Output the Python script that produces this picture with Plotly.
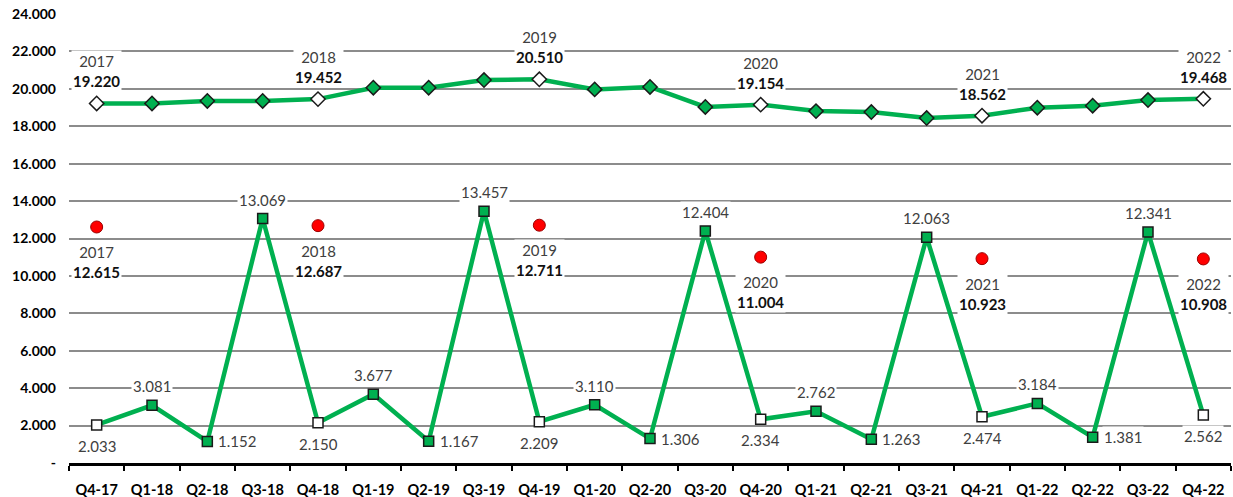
import plotly.graph_objects as go

quarters = ["Q4-17", "Q1-18", "Q2-18", "Q3-18", "Q4-18", "Q1-19", "Q2-19", "Q3-19", "Q4-19",
            "Q1-20", "Q2-20", "Q3-20", "Q4-20", "Q1-21", "Q2-21", "Q3-21", "Q4-21",
            "Q1-22", "Q2-22", "Q3-22", "Q4-22"]

# rolling 12-month total (upper line)
rolling_total = [19220, 19220, 19350, 19350, 19452, 20060, 20060, 20470, 20510,
                 19970, 20100, 19030, 19154, 18810, 18760, 18440, 18562,
                 18990, 19100, 19400, 19468]

# quarterly value (lower line)
quarterly = [2033, 3081, 1152, 13069, 2150, 3677, 1167, 13457, 2209,
             3110, 1306, 12404, 2334, 2762, 1263, 12063, 2474,
             3184, 1381, 12341, 2562]

# yearly average (red dots), sitting on the Q4 categories
year_quarters = ["Q4-17", "Q4-18", "Q4-19", "Q4-20", "Q4-21", "Q4-22"]
years = ["2017", "2018", "2019", "2020", "2021", "2022"]
yearly_avg = [12615, 12687, 12711, 11004, 10923, 10908]

y_tickvals = [0, 2000, 4000, 6000, 8000, 10000, 12000, 14000, 16000, 18000, 20000, 22000, 24000]
y_ticktext = ["-", "2.000", "4.000", "6.000", "8.000", "10.000", "12.000", "14.000",
              "16.000", "18.000", "20.000", "22.000", "24.000"]

GREEN = "#00B050"
FONT = "Lato, 'Open Sans', sans-serif"


def fmt(v):
    return f"{v:,}".replace(",", ".")


is_q4 = [q.startswith("Q4") for q in quarters]

fig = go.Figure()

fig.add_trace(go.Scatter(
    x=quarters, y=rolling_total, mode="lines+markers",
    line=dict(color=GREEN, width=4.5),
    marker=dict(symbol="diamond", size=11,
                color=["white" if f else GREEN for f in is_q4],
                line=dict(color="#1a1a1a", width=1.5)),
    hoverinfo="x+y", showlegend=False
))

fig.add_trace(go.Scatter(
    x=quarters, y=quarterly, mode="lines+markers",
    line=dict(color=GREEN, width=4.5),
    marker=dict(symbol="square", size=10,
                color=["white" if f else GREEN for f in is_q4],
                line=dict(color="#1a1a1a", width=1.5)),
    hoverinfo="x+y", showlegend=False
))

fig.add_trace(go.Scatter(
    x=year_quarters, y=yearly_avg, mode="markers",
    marker=dict(symbol="circle", size=12, color="#FF0000",
                line=dict(color="#9C0000", width=1)),
    hoverinfo="x+y", showlegend=False
))

annotations = []
lab_font = dict(family=FONT, size=15, color="#404040")

# labels of the lower line
for q, v in zip(quarters, quarterly):
    kind = q[:2]
    a = dict(x=q, y=v, text=fmt(v), showarrow=False, font=lab_font,
             bgcolor="white", borderpad=1)
    if kind == "Q4":
        a.update(yanchor="top", yshift=-10)
    elif kind == "Q2":
        a.update(xanchor="left", xshift=9)
    else:
        a.update(yanchor="bottom", yshift=8)
    annotations.append(a)

# labels of the upper line, Q4 only
yi = 0
for q, v in zip(quarters, rolling_total):
    if q.startswith("Q4"):
        annotations.append(dict(
            x=q, y=v, text=f"{years[yi]}<br><b style='color:#111'>{fmt(v)}</b>",
            showarrow=False, font=lab_font, bgcolor="white", borderpad=1,
            yanchor="bottom", yshift=11))
        yi += 1

# labels under the red dots
for q, yr, v in zip(year_quarters, years, yearly_avg):
    annotations.append(dict(
        x=q, y=v, text=f"{yr}<br><b style='color:#111'>{fmt(v)}</b>",
        showarrow=False, font=lab_font, bgcolor="white", borderpad=1,
        yanchor="top", yshift=-14))

fig.update_layout(
    width=1233, height=497,
    margin=dict(l=69, r=2, t=14, b=34),
    paper_bgcolor="white", plot_bgcolor="white",
    font=dict(family=FONT, color="#000"),
    annotations=annotations,
    xaxis=dict(
        type="category", categoryorder="array", categoryarray=quarters,
        range=[-0.5, len(quarters) - 0.5], automargin=False,
        showgrid=False, showline=True, linecolor="#000", linewidth=2.5,
        ticks="outside", tickson="boundaries", ticklen=5, tickwidth=2, tickcolor="#000",
        ticklabelstandoff=12,
        tickfont=dict(family=FONT, size=14.5, color="#000", weight="bold"),
    ),
    yaxis=dict(
        range=[0, 24000], tickvals=y_tickvals, ticktext=y_ticktext, automargin=False,
        showgrid=True, gridcolor="#8C8C8C", gridwidth=1.5,
        zeroline=False, showline=False, ticks="",
        ticklabelstandoff=12,
        tickfont=dict(family=FONT, size=14, color="#000", weight="bold"),
    ),
)

# page body has a default 8px margin; drop it so the chart sits at the top-left corner
fig.write_html("out.html", config={"displayModeBar": False},
               post_script="document.body.style.margin='0';")
